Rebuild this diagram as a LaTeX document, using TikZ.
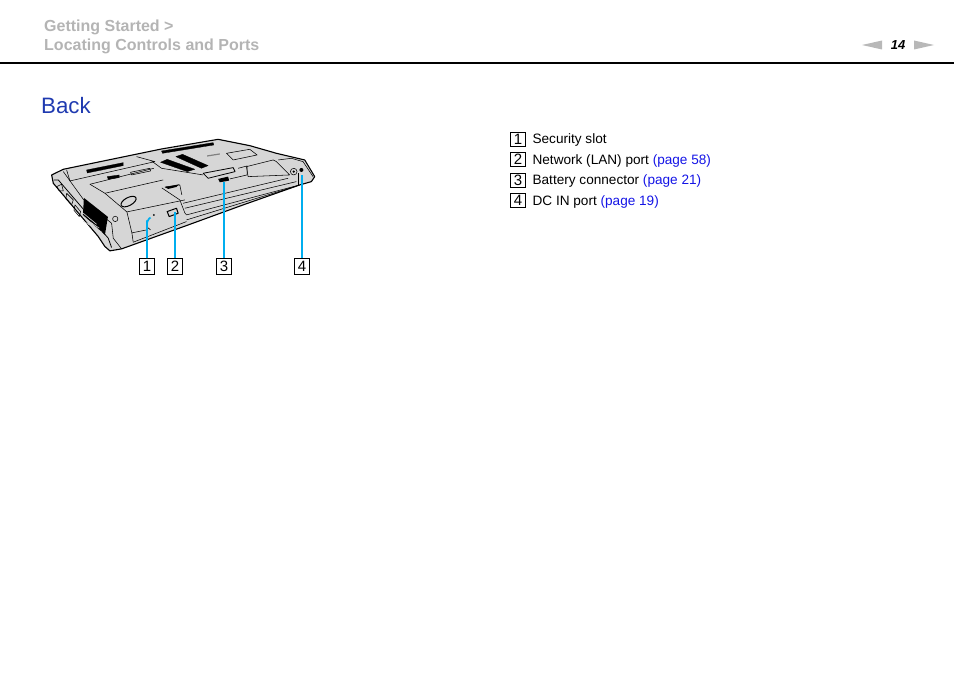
\documentclass[tikz,border=0pt]{standalone}
\usepackage{fontspec}
\setmainfont{Liberation Sans}
\usetikzlibrary{positioning}
\definecolor{headgray}{HTML}{B4B4B4}
\definecolor{backblue}{HTML}{1F3AB0}
\definecolor{linkblue}{HTML}{1414E6}
\definecolor{leadblue}{HTML}{00AEEF}
\definecolor{bodygray}{HTML}{D6D6D6}
\definecolor{arrowgray}{HTML}{B8B8B8}
\begin{document}
\begin{tikzpicture}[x=1pt, y=-1pt, font=\fontsize{13.6}{15}\selectfont,
    header/.style={anchor=west, inner sep=0pt, text=headgray, font=\fontsize{16}{18}\selectfont\bfseries},
    numbox/.style={draw, line width=0.8pt, minimum width=15pt, minimum height=16pt, inner sep=0pt, font=\fontsize{15}{15}\selectfont},
    legendbox/.style={numbox, minimum width=15pt, minimum height=14pt},
    legendtext/.style={anchor=west, inner sep=0pt, yshift=-1pt},
    lead/.style={draw=leadblue, line width=1.7pt},
    thin part/.style={line width=0.55pt},
    vent/.style={fill=black, draw=black, line width=0.3pt}]

    \useasboundingbox (0,0) rectangle (954,674);

    % page header
    \node[header] (section) at (44,27) {Getting Started >};
    \node[header] (topic) at (44,46) {Locating Controls and Ports};
    \coordinate (ruleleft) at (0,63);
    \coordinate (ruleright) at (954,63);
    \draw[line width=2pt] (ruleleft) -- (ruleright);
    \node[inner sep=0pt, font=\fontsize{13}{15}\selectfont\bfseries\itshape] (pagenum) at (898,45) {14};
    \fill[arrowgray] (862,45) -- (882,40.5) -- (882,49.5) -- cycle;
    \fill[arrowgray] (934,45) -- (914,40.5) -- (914,49.5) -- cycle;
    \node[anchor=west, inner sep=0pt, text=backblue, font=\fontsize{22.3}{26}\selectfont] (title) at (41,106) {Back};

    % laptop, typed in 3x coordinates
    \begin{scope}[shift={(30,125)}, x=0.333pt, y=-0.333pt, line join=round]
    \draw[line width=1.1pt, fill=bodygray]
        (65,150) -- (100,133) -- (395,72) -- (565,43) -- (660,62) -- (740,85) -- (825,105)
        -- (855,155) -- (845,170) -- (810,180) -- (640,240) -- (470,302) -- (275,372)
        -- (240,378) -- (225,365) -- (205,335) -- (70,175) -- cycle;
    % side face
    \draw[thin part] (100,140) -- (165,230) -- (245,295) -- (250,340) -- (275,372);
    \draw[line width=0.8pt] (72,165) -- (85,165) -- (235,340) -- (245,368);
    \draw[thin part] (80,185) -- (95,178) -- (100,198) -- (88,198) -- cycle;
    \draw[thin part] (110,205) -- (130,225) -- (125,240) -- (108,222) -- cycle;
    \draw[thin part] (135,240) -- (152,260) -- (148,275) -- (132,256) -- cycle;
    \fill (162,219) -- (234,276) -- (225,330) -- (159,270) -- cycle;
    \foreach \i in {0,1,2} {
        \draw[bodygray, line width=0.6pt] (160,{265+\i*12}) -- ({200+\i*8},{298+\i*12});
    };
    % panels
    \draw[thin part] (110,135) -- (120,168) -- (375,110) -- (320,95);
    \draw[thin part] (180,178) -- (225,205) -- (400,165);
    \draw[thin part] (396,189) -- (450,225) -- (465,264) -- (470,270);
    \draw[thin part] (180,178) -- (372,130);
    \draw[thin part] (225,205) -- (291,261) -- (465,225);
    \draw[thin part] (291,261) -- (306,324) -- (310,352);
    \draw[thin part] (306,324) -- (351,315);
    \draw[thin part] (365,108) -- (395,130) -- (520,150);
    \draw[thin part] (405,186) -- (450,180) -- (456,210);
    \fill (405,187) -- (448,178) -- (440,186) -- (415,192) -- cycle;
    \draw[vent] (170,135) -- (280,113) -- (280,122) -- (172,144) -- cycle;
    \draw[vent] (232,155) -- (268,150) -- (268,158) -- (235,163) -- cycle;
    \draw[thin part] (302,142) -- (360,130) -- (362,138) -- (305,150) -- cycle;
    \draw[line width=1pt, fill=bodygray, rotate around={28:(296,230)}] (296,230) ellipse[x radius=25, y radius=12];
    \draw[thin part] (256,282) circle[radius=8];
    \draw[vent] (395,78) -- (550,53) -- (552,60) -- (398,85) -- cycle;
    \draw[vent] (392,112) -- (412,103) -- (495,133) -- (472,140) -- cycle;
    \draw[vent] (438,95) -- (458,88) -- (535,122) -- (515,130) -- cycle;
    \draw[thin part] (590,85) -- (660,73) -- (682,90) -- (610,105) -- cycle;
    \draw[line width=1.2pt, gray] (532,93) -- (570,87);
    % battery bay and connector
    \draw[thin part] (650,125) -- (730,105) -- (740,110) -- (780,150) -- (655,155) -- cycle;
    \draw[thin part] (745,105) -- (785,100) -- (820,110);
    \draw[line width=0.8pt, fill=bodygray] (520,145) -- (610,128) -- (616,140) -- (575,150) -- (535,160) -- cycle;
    \fill (565,162) -- (595,155) -- (598,167) -- (570,172) -- cycle;
    \draw[thin part] (625,130) -- (652,123) -- (652,150) -- (600,162);
    % long edges of the base
    \draw[thin part] (460,235) -- (775,160);
    \draw[thin part] (465,250) -- (800,170);
    \draw[thin part] (470,270) -- (810,180);
    \draw[thin part] (470,285) -- (805,182);
    \draw[thin part] (310,352) -- (470,290);
    % port at the right end, security slot and network port
    \draw[thin part] (792,140) circle[radius=10];
    \fill (792,140) circle[radius=4];
    \fill (815,135) circle[radius=6];
    \draw[thin part] (805,145) -- (805,180);
    \draw[thin part] (820,110) -- (850,155);
    \draw[thin part] (350,305) -- (362,315);
    \draw[line width=1pt, fill=bodygray] (412,260) -- (440,250) -- (445,265) -- (418,275) -- cycle;
    \fill (372,270) circle[radius=3];
    \coordinate (pt1) at (362,278);
    \coordinate (pt2) at (432,262);
    \coordinate (pt3) at (582,172);
    \coordinate (pt4) at (815,150);
    \end{scope}

    % callouts
    \node[numbox] (num1) at (147,266.5) {1};
    \node[numbox] (num2) at (175,266.5) {2};
    \node[numbox] (num3) at (224,266.5) {3};
    \node[numbox] (num4) at (302,266.5) {4};
    \draw[lead] (num1.north) -- (num1.north |- {(0,222)}) to[out=-90, in=180] (pt1);
    \draw[lead] (num2.north) -- (num2.north |- pt2);
    \draw[lead] (num3.north) -- (num3.north |- pt3);
    \draw[lead] (num4.north) -- (num4.north |- pt4);

    % legend
    \node[legendbox] (key1) at (518,139) {1};
    \node[legendbox] (key2) at (518,159.5) {2};
    \node[legendbox] (key3) at (518,180) {3};
    \node[legendbox] (key4) at (518,200.5) {4};
    \node[legendtext, right=6.5pt of key1] (item1) {Security slot};
    \node[legendtext, right=6.5pt of key2] (item2) {Network (LAN) port \textcolor{linkblue}{(page 58)}};
    \node[legendtext, right=6.5pt of key3] (item3) {Battery connector \textcolor{linkblue}{(page 21)}};
    \node[legendtext, right=6.5pt of key4] (item4) {DC IN port \textcolor{linkblue}{(page 19)}};
\end{tikzpicture}
\end{document}
